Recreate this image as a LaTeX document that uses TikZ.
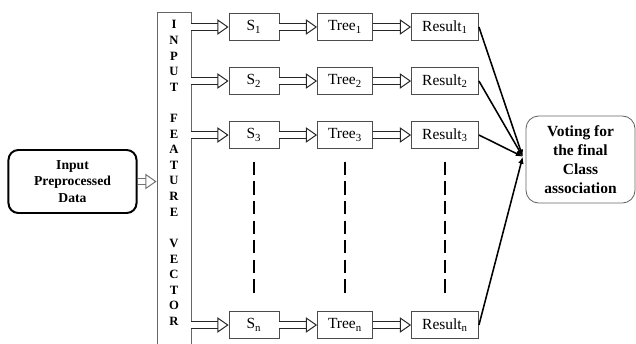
\documentclass[tikz,border=0pt]{standalone}
\usepackage{fontspec}
\setmainfont{Liberation Serif}
\usetikzlibrary{arrows.meta,calc}

\begin{document}
\begin{tikzpicture}[x=0.025cm,y=-0.025cm]
	\tikzset{
		cell/.style={draw=black!70,line width=0.6pt,minimum height=0.675cm,inner sep=1pt,font=\fontsize{11}{13}\selectfont},
		hollow/.style={draw=black!85,line width=0.7pt,double,double distance=3.8pt,-{Triangle[open,length=8pt,width=11pt,line width=0.7pt]}},
		vote/.style={-{Latex[length=5pt,width=4pt]},line width=1.1pt},
		gap/.style={line width=1.4pt,dash pattern=on 9.5pt off 4.4pt}}
	\useasboundingbox (0,0) rectangle (636,343);
	\node[draw,line width=1.4pt,rounded corners=7pt,minimum width=3.2cm,minimum height=1.575cm,align=center,font=\fontsize{9.7}{11.5}\selectfont\bfseries] (in) at (72.5,181.5) {Input\\Preprocessed\\Data};
	\node[draw=black!60,line width=0.6pt,minimum width=0.85cm,minimum height=9cm,anchor=north] (bar) at (174,12) {};
	\node[align=center,font=\fontsize{9}{11.1}\selectfont\bfseries] (fv) at (174,173) {I\\N\\P\\U\\T\\[11.1pt]F\\E\\A\\T\\U\\R\\E\\[11.1pt]V\\E\\C\\T\\O\\R};
	\draw[hollow,draw=black!55] (in) -- (in-|bar.west);
	\foreach \i/\y in {1/27,2/81,3/135,n/325}{
		\node[cell,minimum width=1.25cm] (s\i) at (254,\y) {S\textsubscript{\i}};
		\node[cell,minimum width=1.375cm] (t\i) at (345,\y) {Tree\textsubscript{\i}};
		\node[cell,minimum width=1.675cm] (r\i) at (445,\y) {Result\textsubscript{\i}};
		\draw[hollow] (bar.east|-s\i) -- (s\i);
		\draw[hollow] (s\i) -- (t\i);
		\draw[hollow] (t\i) -- (r\i);
	}
	\foreach \col in {s,t,r}
		\draw[gap] ($(\col3.south)+(0,13)$) -- ($(\col n.north)+(0,-14)$);
	\node[draw=black!60,line width=0.6pt,rounded corners=9pt,minimum width=2.725cm,minimum height=2.175cm,align=center,font=\fontsize{11}{13.5}\selectfont\bfseries] (vt) at (580.5,159.5) {Voting for\\the final\\Class\\association};
	\coordinate (meet) at ([xshift=-2pt,yshift=2pt]vt.west);
	\foreach \i in {1,2,3,n}
		\draw[vote] (r\i.east) -- (meet);
\end{tikzpicture}
\end{document}
